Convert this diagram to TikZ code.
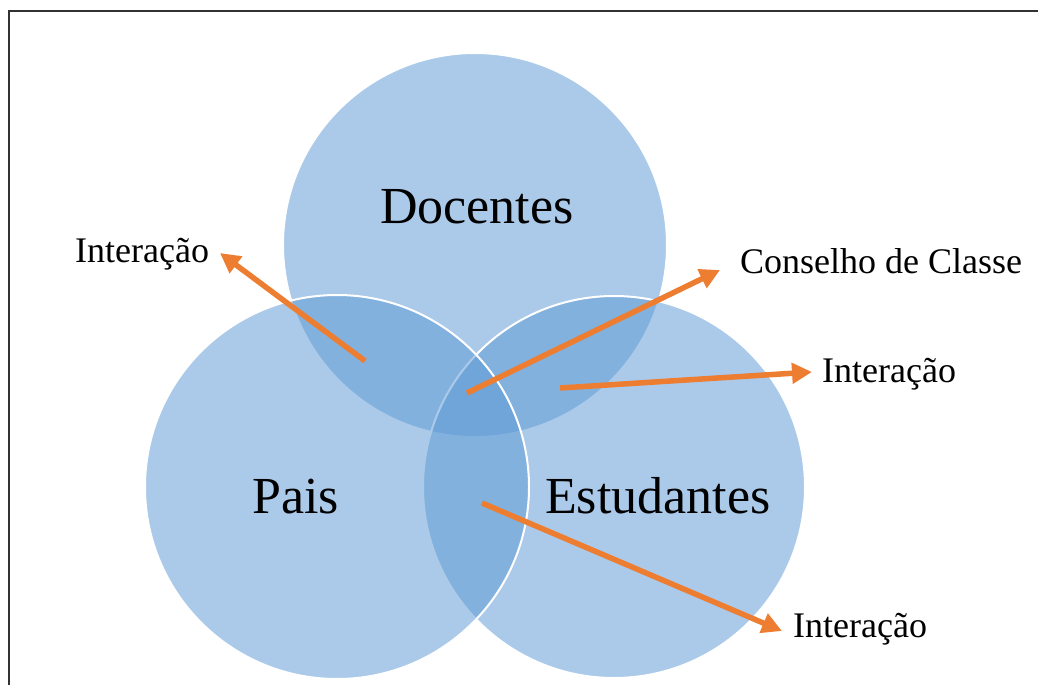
\documentclass[tikz,border=0pt]{standalone}
\usepackage{fontspec}
\setmainfont{Liberation Serif}
\usetikzlibrary{arrows.meta}
\definecolor{setblue}{RGB}{95,155,213}
\definecolor{arroworange}{RGB}{237,125,49}
\definecolor{framegray}{RGB}{50,50,50}
\tikzset{
  setcircle/.style={circle, minimum size=#1, inner sep=0pt, fill=setblue, fill opacity=0.52, draw=white, draw opacity=1, line width=2pt},
  bigtext/.style={anchor=base west, inner sep=0pt, font=\fontsize{52}{60}\selectfont, text=black},
  smalltext/.style={anchor=base west, inner sep=0pt, font=\fontsize{36}{42}\selectfont, text=black},
  orangearrow/.style={draw=arroworange, line width=5.5pt, -{Triangle[length=20pt,width=20pt]}}
}
\begin{document}
\begin{tikzpicture}[x=1pt,y=-1pt]
\useasboundingbox (0,0) rectangle (1038,685);
\fill[white] (0,0) rectangle (1038,685);
% frame
\draw[framegray, line width=2pt] (9,685) -- (9,11) -- (1038,11);
% circles
\node[setcircle=384pt] (doc) at (475,245) {};
\node[setcircle=382pt] (est) at (614,487) {};
\node[setcircle=384pt] (pai) at (337,487) {};
% circle texts
\node[bigtext] (tdoc) at (380,223) {Docentes};
\node[bigtext] (tpai) at (252,513) {Pais};
\node[bigtext] (test) at (545,513) {Estudantes};
% labels
\node[smalltext] (l1) at (75,262) {Interação};
\node[smalltext] (l2) at (740,273) {Conselho de Classe};
\node[smalltext] (l3) at (822,382) {Interação};
\node[smalltext] (l4) at (793,637) {Interação};
% arrow ends
\coordinate (a1s) at (365,361);
\coordinate (a1e) at (220,253);
\coordinate (a2s) at (467,393);
\coordinate (a2e) at (720,270);
\coordinate (a3s) at (560,388);
\coordinate (a3e) at (812,372);
\coordinate (a4s) at (482,503);
\coordinate (a4e) at (782,631);
\draw[orangearrow] (a1s) -- (a1e);
\draw[orangearrow] (a2s) -- (a2e);
\draw[orangearrow] (a3s) -- (a3e);
\draw[orangearrow] (a4s) -- (a4e);
\end{tikzpicture}
\end{document}
